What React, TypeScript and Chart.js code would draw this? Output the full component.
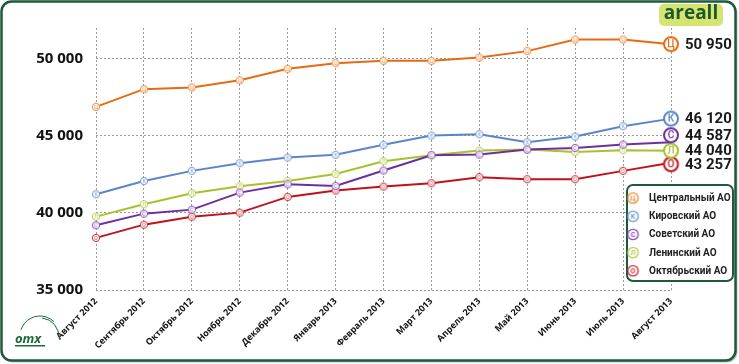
import React, { useEffect, useRef } from "react";
import { Chart, registerables } from "chart.js";
Chart.register(...registerables);

const months = ["Август 2012", "Сентябрь 2012", "Октябрь 2012", "Ноябрь 2012", "Декабрь 2012", "Январь 2013", "Февраль 2013", "Март 2013", "Апрель 2013", "Май 2013", "Июнь 2013", "Июль 2013", "Август 2013"];
const central = [46880, 48030, 48140, 48610, 49350, 49720, 49870, 49870, 50085, 50500, 51250, 51250, 50950];
const kirov = [41210, 42070, 42730, 43225, 43590, 43770, 44420, 45020, 45110, 44590, 44955, 45630, 46120];
const sovet = [39200, 39955, 40215, 41320, 41860, 41750, 42750, 43745, 43785, 44110, 44220, 44435, 44587];
const lenin = [39760, 40565, 41280, 41735, 42070, 42530, 43355, 43745, 44045, 44110, 43960, 44070, 44040];
const okt = [38380, 39240, 39760, 40020, 41040, 41450, 41710, 41930, 42320, 42190, 42190, 42730, 43257];
const seriesNames = ["Центральный АО", "Кировский АО", "Советский АО", "Ленинский АО", "Октябрьский АО"];
const letters = ["Ц", "К", "С", "Л", "О"];
const yTicks = [35000, 40000, 45000, 50000];

const lineColors = ["#e46c12", "#5a86c8", "#6e2f9e", "#a9c12e", "#c0121c"];
const ringColors = ["#ee8a3a", "#6f97d3", "#8a4bb5", "#b6cb45", "#c62a30"];
const endOffsets = [0, 0, -7, 0, 1.5];

const FONT = "'Open Sans', 'DejaVu Sans', sans-serif";
const NFONT = "Roboto, 'Open Sans', sans-serif";
const fmt = (v: number) => String(v).replace(/\B(?=(\d{3})+(?!\d))/g, " ");

function makeMarker(letter: string, color: string, r: number, lw: number, fs: number, dy = 0, weight = "bold") {
  const size = Math.ceil(2 * (r + lw) + 4 + 2 * Math.abs(dy));
  const c = document.createElement("canvas");
  c.width = size;
  c.height = size;
  const ctx = c.getContext("2d")!;
  const cx = size / 2, cy = size / 2 + dy;
  ctx.beginPath();
  ctx.arc(cx, cy, r, 0, Math.PI * 2);
  ctx.fillStyle = "#fff";
  ctx.fill();
  ctx.lineWidth = lw;
  ctx.strokeStyle = color;
  ctx.stroke();
  ctx.fillStyle = color;
  ctx.font = `${weight} ${fs}px ${NFONT}`;
  ctx.textAlign = "center";
  ctx.textBaseline = "middle";
  ctx.fillText(letter, cx, cy + 0.5);
  return c;
}

function rr(ctx: CanvasRenderingContext2D, x: number, y: number, w: number, h: number, r: number) {
  ctx.beginPath();
  ctx.moveTo(x + r, y);
  ctx.lineTo(x + w - r, y);
  ctx.arcTo(x + w, y, x + w, y + r, r);
  ctx.lineTo(x + w, y + h - r);
  ctx.arcTo(x + w, y + h, x + w - r, y + h, r);
  ctx.lineTo(x + r, y + h);
  ctx.arcTo(x, y + h, x, y + h - r, r);
  ctx.lineTo(x, y + r);
  ctx.arcTo(x, y, x + r, y, r);
  ctx.closePath();
}

const decorPlugin = {
  id: "decor",
  beforeDraw(chart: any) {
    const ctx = chart.ctx as CanvasRenderingContext2D;
    ctx.save();
    rr(ctx, 3, 3, 734.5, 359.5, 10);
    ctx.fillStyle = "#b8c4bc";
    ctx.fill();
    rr(ctx, 1.5, 1.5, 734, 359, 10);
    ctx.fillStyle = "#ffffff";
    ctx.fill();
    ctx.lineWidth = 2.5;
    ctx.strokeStyle = "#1d5a3c";
    ctx.stroke();
    ctx.restore();
  },
  afterDraw(chart: any) {
    const ctx = chart.ctx as CanvasRenderingContext2D;
    const ys = chart.scales.y;
    ctx.save();
    // end labels
    chart.data.datasets.forEach((ds: any, i: number) => {
      const last = ds.data[ds.data.length - 1];
      const y = ys.getPixelForValue(last) + endOffsets[i];
      ctx.fillStyle = "#1a1a1a";
      ctx.font = `bold 15px ${NFONT}`;
      ctx.textAlign = "left";
      ctx.textBaseline = "middle";
      ctx.fillText(fmt(last), 685, y + 1);
    });
    // legend
    rr(ctx, 627, 185, 106, 96, 6);
    ctx.fillStyle = "#fff";
    ctx.fill();
    ctx.lineWidth = 2;
    ctx.strokeStyle = "#1d5a3c";
    ctx.stroke();
    seriesNames.forEach((name, i) => {
      const y = 198 + i * 18.2;
      const m = makeMarker(letters[i], ringColors[i], 5.2, 1.3, 7);
      ctx.drawImage(m, 633 - m.width / 2, y - m.height / 2);
      ctx.fillStyle = "#222";
      ctx.font = `bold 10px ${NFONT}`;
      ctx.textAlign = "left";
      ctx.textBaseline = "middle";
      ctx.fillText(name, 649, y + 0.5);
    });
    // badge
    rr(ctx, 659, 4, 64, 22, 5);
    ctx.fillStyle = "#d6e472";
    ctx.fill();
    ctx.fillStyle = "#1d5a2a";
    ctx.font = `bold 19px ${FONT}`;
    ctx.textAlign = "center";
    ctx.textBaseline = "middle";
    ctx.fillText("areall", 691, 14);
    // logo
    ctx.strokeStyle = "#1d6a3a";
    ctx.lineWidth = 1;
    ctx.beginPath();
    ctx.arc(40, 336, 20, Math.PI * 1.1, Math.PI * 1.75);
    ctx.stroke();
    ctx.beginPath();
    ctx.moveTo(42, 318);
    ctx.quadraticCurveTo(58, 320, 60, 340);
    ctx.stroke();
    ctx.fillStyle = "#1d6a3a";
    ctx.font = `italic bold 13px ${FONT}`;
    ctx.textAlign = "left";
    ctx.textBaseline = "alphabetic";
    ctx.fillText("omx", 15, 343);
    ctx.fillRect(15, 345, 30, 1.5);
    ctx.restore();
  },
};

export default function App() {
  const ref = useRef<HTMLCanvasElement>(null);
  useEffect(() => {
    const all = [central, kirov, sovet, lenin, okt];
    const datasets = all.map((data, i) => {
      const small = makeMarker(letters[i], ringColors[i], 3.6, 1, 5, 0, "normal");
      const big = makeMarker(letters[i], lineColors[i], 7, 2, 10, endOffsets[i], "500");
      return {
        label: seriesNames[i],
        data,
        borderColor: lineColors[i],
        backgroundColor: lineColors[i],
        borderWidth: 2,
        tension: 0,
        pointRadius: 4,
        pointStyle: data.map((_, j) => (j === data.length - 1 ? big : small)),
        clip: false as any,
      };
    });
    const chart = new Chart(ref.current!, {
      type: "line",
      data: { labels: months, datasets },
      options: {
        animation: false,
        responsive: false,
        events: [],
        layout: { padding: { top: 28, right: 68, left: 0, bottom: 0 } },
        plugins: { legend: { display: false }, tooltip: { enabled: false } },
        scales: {
          x: {
            grid: { color: "#9a9a9a", lineWidth: 1, drawTicks: false },
            border: { display: false, dash: [2, 2] },
            ticks: {
              autoSkip: false,
              minRotation: 45,
              maxRotation: 45,
              padding: 6,
              color: "#111",
              font: { size: 9, weight: "bold", family: FONT },
            },
            afterFit: (s: any) => {
              s.height = 74;
            },
          },
          y: {
            min: 35000,
            max: 52000,
            afterBuildTicks: (s: any) => {
              s.ticks = yTicks.map((v) => ({ value: v }));
            },
            grid: { color: "#9a9a9a", lineWidth: 1, drawTicks: false },
            border: { display: false, dash: [2, 2] },
            ticks: {
              padding: 13,
              color: "#111",
              font: { size: 15, weight: "bold", family: FONT },
              callback: (v: any) => fmt(Number(v)),
            },
            afterFit: (s: any) => {
              s.width = 96;
            },
          },
        },
      },
      plugins: [decorPlugin],
    });
    return () => chart.destroy();
  }, []);
  return (
    <div style={{ position: "absolute", left: 0, top: 0, width: 739, height: 364 }}>
      <canvas ref={ref} width={739} height={364} style={{ display: "block" }} />
    </div>
  );
}
